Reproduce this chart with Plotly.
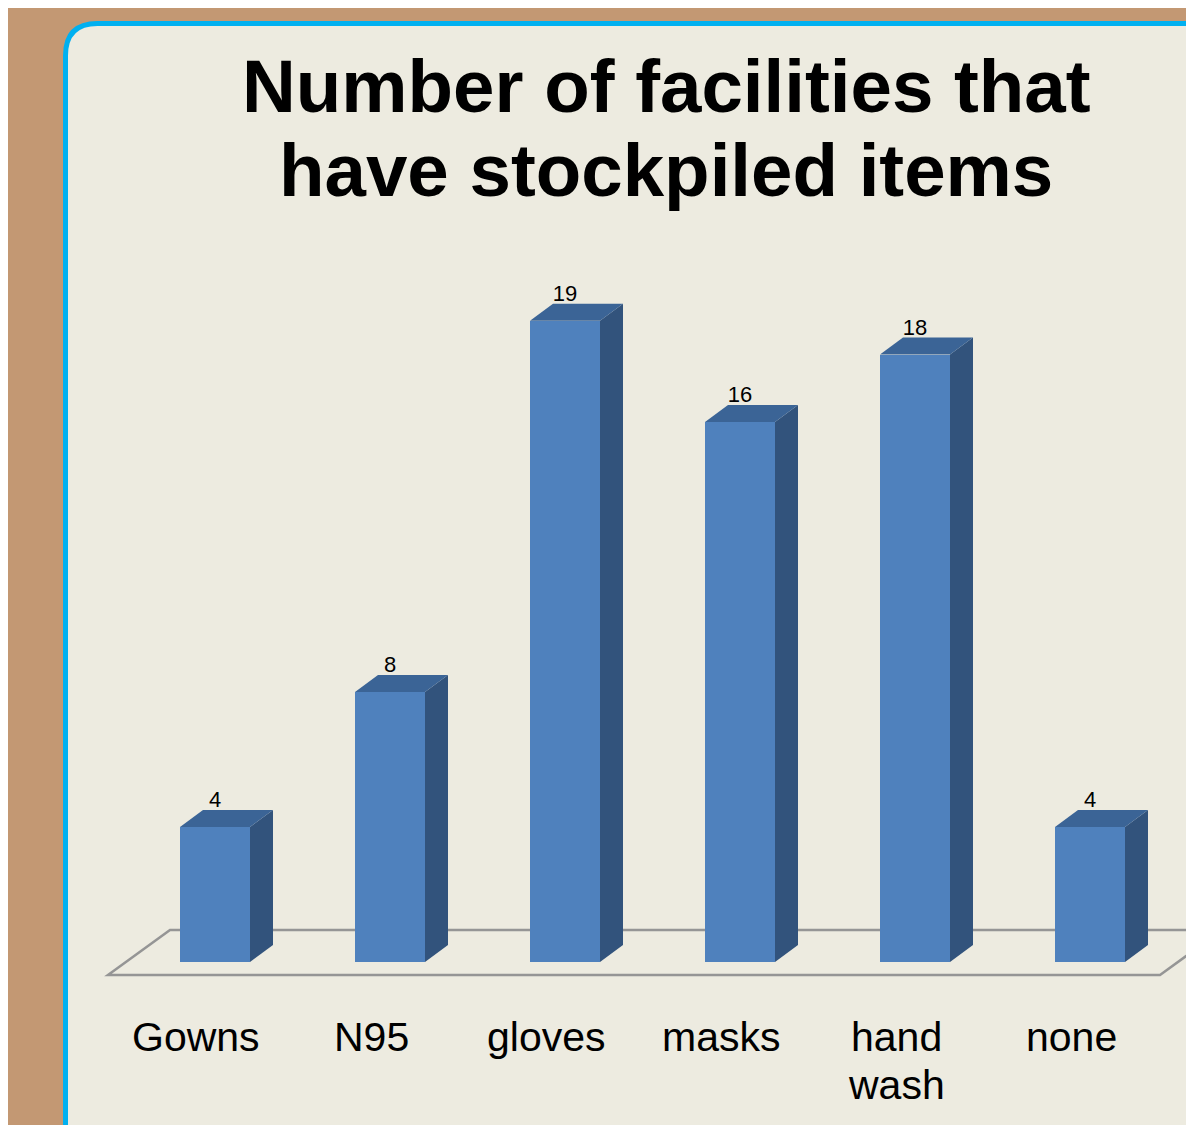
import plotly.graph_objects as go

# ---- data ----
categories = ["Gowns", "N95", "gloves", "masks", "hand<br>wash", "none"]
values = [4, 8, 19, 16, 18, 4]
title_lines = ["Number of facilities that", "have stockpiled items"]

# ---- layout helpers (window pixel -> data / paper mapping) ----
W, H = 1194, 1125
OFF = 8                    # page body margin offset
X0, XS = 215.0, 175.0      # window px of first category centre, px per category
Y0, YS = 962.0, 33.75      # window px of value 0, px per unit


def xr(px):
    return (px - X0) / XS


def yr(py):
    return (Y0 - py) / YS


def px_(x):
    return (x - OFF) / W


def py_(y):
    return 1 - (y - OFF) / H


HW = 35 / XS               # half bar width (data units)
DX = 23 / XS               # depth offset x
DY = 17 / YS               # depth offset y

FRONT = "#4F81BD"
SIDE = "#32537C"
TOP = "#3B6496"

fig = go.Figure()

# front faces
fig.add_trace(go.Bar(
    x=list(range(len(values))), y=values, width=2 * HW,
    marker=dict(color=FRONT, line=dict(width=0)),
    hoverinfo="skip", showlegend=False,
))

# side and top faces
for i, v in enumerate(values):
    r = i + HW
    l = i - HW
    fig.add_trace(go.Scatter(
        x=[r, r + DX, r + DX, r, r], y=[0, DY, v + DY, v, 0],
        fill="toself", fillcolor=SIDE, mode="none",
        hoverinfo="skip", showlegend=False))
    fig.add_trace(go.Scatter(
        x=[l, r, r + DX, l + DX, l], y=[v, v, v + DY, v + DY, v],
        fill="toself", fillcolor=TOP, mode="none",
        hoverinfo="skip", showlegend=False))

# value labels
fig.add_trace(go.Scatter(
    x=list(range(len(values))), y=[v + DY - 2.5 / YS for v in values],
    mode="text", text=[str(v) for v in values], textposition="top center",
    textfont=dict(family="Liberation Sans, Arial", size=22, color="#000000"),
    hoverinfo="skip", showlegend=False))

# floor (below traces)
fy_front, fy_back = yr(975), yr(930)
fx_fl, fx_fr = xr(108), xr(1160)
fx_bl, fx_br = xr(170), xr(1222)
floor_path = (f"M {fx_bl},{fy_back} L {fx_br},{fy_back} L {fx_fr},{fy_front} "
              f"L {fx_fl},{fy_front} Z")

shapes = []
# panel with rounded corner
L, T, R, B, rad = 65.5, 23.5, 1260, 1200, 32
panel_path = (f"M {px_(L)},{py_(B)} L {px_(L)},{py_(T + rad)} "
              f"Q {px_(L)},{py_(T)} {px_(L + rad)},{py_(T)} "
              f"L {px_(R)},{py_(T)} L {px_(R)},{py_(B)} Z")
shapes.append(dict(type="path", path=panel_path, xref="paper", yref="paper",
                   fillcolor="#EDEBE0", line=dict(color="#00B0F0", width=5),
                   layer="below"))
shapes.append(dict(type="path", path=floor_path, xref="x", yref="y",
                   fillcolor="rgba(0,0,0,0)", line=dict(color="#959595", width=2.5),
                   layer="below"))

annotations = []
LABEL_DX = -18.8 / XS
for i, c in enumerate(categories):
    for j, part in enumerate(c.split("<br>")):
        annotations.append(dict(
            x=i + LABEL_DX, y=yr(1037 + 48 * j), xref="x", yref="y", text=part,
            showarrow=False, xanchor="center", yanchor="middle", align="center",
            font=dict(family="Liberation Sans, Arial", size=41, color="#000000")))
for line, cy in zip(title_lines, [87, 170]):
    annotations.append(dict(
        x=px_(666), y=py_(cy), xref="paper", yref="paper", text="<b>" + line + "</b>",
        showarrow=False, xanchor="center", yanchor="middle", align="center",
        font=dict(family="Liberation Sans, Arial", size=74.5, color="#000000")))

fig.update_layout(
    width=W, height=H, autosize=False,
    margin=dict(l=0, r=0, t=0, b=0, pad=0),
    paper_bgcolor="#C39873", plot_bgcolor="rgba(0,0,0,0)",
    xaxis=dict(range=[xr(OFF), xr(OFF + W)], visible=False, fixedrange=True),
    yaxis=dict(range=[yr(OFF + H), yr(OFF)], visible=False, fixedrange=True),
    shapes=shapes, annotations=annotations, showlegend=False,
    bargap=0,
)

fig.write_html("out.html")
